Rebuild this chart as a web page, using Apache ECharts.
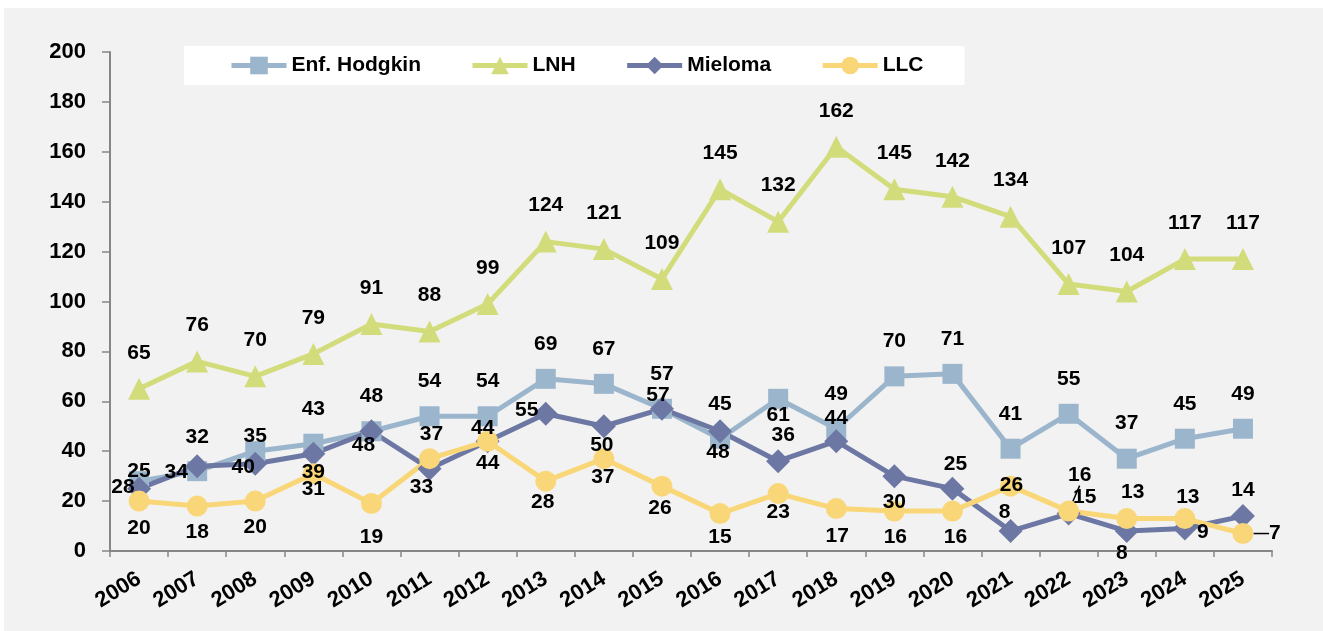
<!DOCTYPE html>
<html>
<head>
<meta charset="utf-8">
<script src="https://cdn.jsdelivr.net/npm/echarts@6/dist/echarts.min.js"></script>
<style>
  html, body { margin: 0; padding: 0; background: #ffffff; }
  #chart { position: absolute; left: 4px; top: 8px; width: 1319px; height: 623px; }
</style>
</head>
<body>
<div id="chart"></div>
<script>
// ---- data ----
const years = ['2006','2007','2008','2009','2010','2011','2012','2013','2014','2015','2016','2017','2018','2019','2020','2021','2022','2023','2024','2025'];
const hodgkin = [28, 32, 40, 43, 48, 54, 54, 69, 67, 57, 45, 61, 49, 70, 71, 41, 55, 37, 45, 49];
const lnh     = [65, 76, 70, 79, 91, 88, 99, 124, 121, 109, 145, 132, 162, 145, 142, 134, 107, 104, 117, 117];
const mieloma = [25, 34, 35, 39, 48, 33, 44, 55, 50, 57, 48, 36, 44, 30, 25, 8, 15, 8, 9, 14];
const llc     = [20, 18, 20, 31, 19, 37, 44, 28, 37, 26, 15, 23, 17, 16, 16, 26, 16, 13, 13, 7];
const seriesNames = ['Enf. Hodgkin', 'LNH', 'Mieloma', 'LLC'];

// ---- label layout (offsets of label centre from its point, px) ----
const hodgkinOff = [[-16,6],[0,-34],[-12,16],[0,-35],[0,-35],[0,-35],[0,-35],[0,-35],[0,-35],[0,-35],[0,-35],[0,16],[0,-35],[0,-35],[0,-35],[0,-35],[0,-35],[0,-35],[0,-35],[0,-35]];
const lnhOff = years.map(() => [0,-36]);
const mielomaOff = [[0,-17],[-21,6],[0,-27],[0,19],[-8,14],[-8,19],[-5,-13],[-19,-4],[-2,19],[-4,-14],[-2,21],[5,-26],[0,-23],[0,26],[3,-24],[-6,-19],[16,-16],[-5,22],[18,4],[0,-26]];
const llcOff = [[0,27],[0,26],[0,26],[0,16],[0,34],[2,-24],[0,22],[-3,21],[-1,19],[-2,22],[0,24],[0,19],[1,28],[1,26],[3,26],[1,-1],[11,-36],[6,-26],[3,-21],[32,0]];
const llcGuide = [16, 19];

const FONT = '"Liberation Sans", Arial, sans-serif';
const labelStyle = { show: true, position: 'inside', color: '#000', fontFamily: FONT, fontWeight: 'bold', fontSize: 21 };

function mkSeries(name, values, offs, color, symbol, size, guides) {
  return {
    name: name,
    type: 'line',
    data: values.map((v, i) => {
      const item = { value: v };
      if (guides && guides.indexOf(i) >= 0) item.labelLine = { show: true, lineStyle: { color: '#000', width: 1.5 } };
      return item;
    }),
    symbol: symbol,
    symbolSize: size,
    showAllSymbol: true,
    lineStyle: { color: color, width: 5 },
    itemStyle: { color: color },
    label: labelStyle,
    labelLine: { show: false },
    labelLayout: function (p) { const o = offs[p.dataIndex]; return { dx: o[0], dy: o[1] }; },
    emphasis: { disabled: true },
    animation: false
  };
}

const chart = echarts.init(document.getElementById('chart'));
chart.setOption({
  backgroundColor: '#f2f2f2',
  animation: false,
  grid: { left: 106, right: 51, top: 44, bottom: 80, containLabel: false },
  legend: {
    data: seriesNames,
    left: 180, top: 38,
    backgroundColor: '#ffffff',
    padding: [9, 41, 9, 45],
    itemGap: 49,
    itemWidth: 55, itemHeight: 22,
    lineStyle: { width: 5 },
    textStyle: { fontFamily: FONT, fontWeight: 'bold', fontSize: 21, color: '#000' }
  },
  xAxis: {
    type: 'category',
    data: years,
    boundaryGap: true,
    axisLine: { lineStyle: { color: '#868686', width: 2 } },
    axisTick: { show: true, length: 6, lineStyle: { color: '#868686', width: 1.5 } },
    axisLabel: { rotate: 32, margin: 26, interval: 0, color: '#000', fontFamily: FONT, fontWeight: 'bold', fontSize: 22 },
    splitLine: { show: false }
  },
  yAxis: {
    type: 'value',
    min: 0, max: 200, interval: 20,
    axisLine: { show: true, lineStyle: { color: '#868686', width: 2 } },
    axisTick: { show: true, length: 8, lineStyle: { color: '#868686', width: 1.5 } },
    axisLabel: { margin: 24, color: '#000', fontFamily: FONT, fontWeight: 'bold', fontSize: 22 },
    splitLine: { show: false }
  },
  series: [
    mkSeries('Enf. Hodgkin', hodgkin, hodgkinOff, '#9bb6cc', 'rect', 20),
    mkSeries('LNH', lnh, lnhOff, '#d3dc7b', 'triangle', 22),
    mkSeries('Mieloma', mieloma, mielomaOff, '#6d77a3', 'diamond', 24),
    mkSeries('LLC', llc, llcOff, '#f9d778', 'circle', 21, llcGuide)
  ]
});
</script>
</body>
</html>
